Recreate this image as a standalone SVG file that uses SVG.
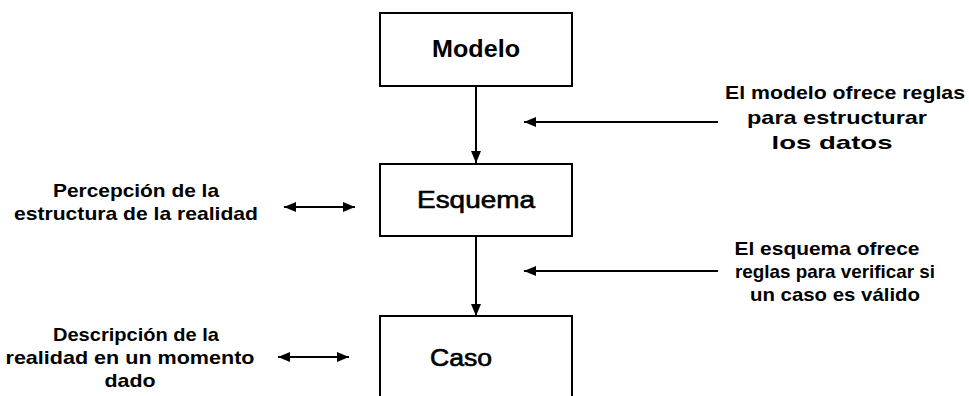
<svg xmlns="http://www.w3.org/2000/svg" width="969" height="396" viewBox="0 0 969 396">
<defs>
<marker id="ah" markerWidth="12" markerHeight="10" refX="12" refY="5" orient="auto-start-reverse" markerUnits="userSpaceOnUse">
<path d="M0,0 L12,5 L0,10 Z" fill="#000"/>
</marker>
<style>
.box{fill:#fff;stroke:#000;stroke-width:2}
.lbl{font-family:"Liberation Sans",Arial,sans-serif;font-weight:bold;font-size:19px;fill:#000;text-anchor:middle}
.ttl{font-family:"Liberation Sans",Arial,sans-serif;font-size:23px;fill:#000;text-anchor:middle;stroke:#000;stroke-width:0.6}
.b{font-weight:bold;stroke:none}
.ln{stroke:#000;stroke-width:2;fill:none}
</style>
</defs>
<rect width="969" height="396" fill="#fff"/>
<g id="connectors">
<line class="ln" x1="476" y1="86" x2="476" y2="163" marker-end="url(#ah)"/>
<line class="ln" x1="476" y1="236" x2="476" y2="316" marker-end="url(#ah)"/>
<line class="ln" x1="718" y1="122" x2="524" y2="122" marker-end="url(#ah)"/>
<line class="ln" x1="718" y1="271" x2="524" y2="271" marker-end="url(#ah)"/>
<line class="ln" x1="284" y1="207" x2="355" y2="207" marker-start="url(#ah)" marker-end="url(#ah)"/>
<line class="ln" x1="278" y1="357" x2="349" y2="357" marker-start="url(#ah)" marker-end="url(#ah)"/>
</g>
<g id="modelo">
<rect class="box" x="380" y="13" width="192" height="73"/>
<text class="ttl b" x="476" y="57" textLength="88" lengthAdjust="spacingAndGlyphs">Modelo</text>
</g>
<g id="esquema">
<rect class="box" x="380" y="164" width="192" height="72"/>
<text class="ttl" x="476" y="208" textLength="118" lengthAdjust="spacingAndGlyphs">Esquema</text>
</g>
<g id="caso">
<rect class="box" x="380" y="316" width="192" height="90"/>
<text class="ttl" x="461" y="366" textLength="62" lengthAdjust="spacingAndGlyphs">Caso</text>
</g>
<g id="nota-modelo">
<text class="lbl" x="845" y="99" textLength="240" lengthAdjust="spacingAndGlyphs">El modelo ofrece reglas</text>
<text class="lbl" x="837" y="124" textLength="180" lengthAdjust="spacingAndGlyphs">para estructurar</text>
<text class="lbl" x="832" y="149" textLength="121" lengthAdjust="spacingAndGlyphs">los datos</text>
</g>
<g id="nota-esquema">
<text class="lbl" x="827" y="255" textLength="185" lengthAdjust="spacingAndGlyphs">El esquema ofrece</text>
<text class="lbl" x="835" y="278" textLength="200" lengthAdjust="spacingAndGlyphs">reglas para verificar si</text>
<text class="lbl" x="835" y="301" textLength="170" lengthAdjust="spacingAndGlyphs">un caso es válido</text>
</g>
<g id="nota-percepcion">
<text class="lbl" x="136" y="197" textLength="166" lengthAdjust="spacingAndGlyphs">Percepción de la</text>
<text class="lbl" x="136" y="220" textLength="244" lengthAdjust="spacingAndGlyphs">estructura de la realidad</text>
</g>
<g id="nota-descripcion">
<text class="lbl" x="136" y="341" textLength="166" lengthAdjust="spacingAndGlyphs">Descripción de la</text>
<text class="lbl" x="130" y="364" textLength="249" lengthAdjust="spacingAndGlyphs">realidad en un momento</text>
<text class="lbl" x="130" y="387" textLength="51" lengthAdjust="spacingAndGlyphs">dado</text>
</g>
</svg>
